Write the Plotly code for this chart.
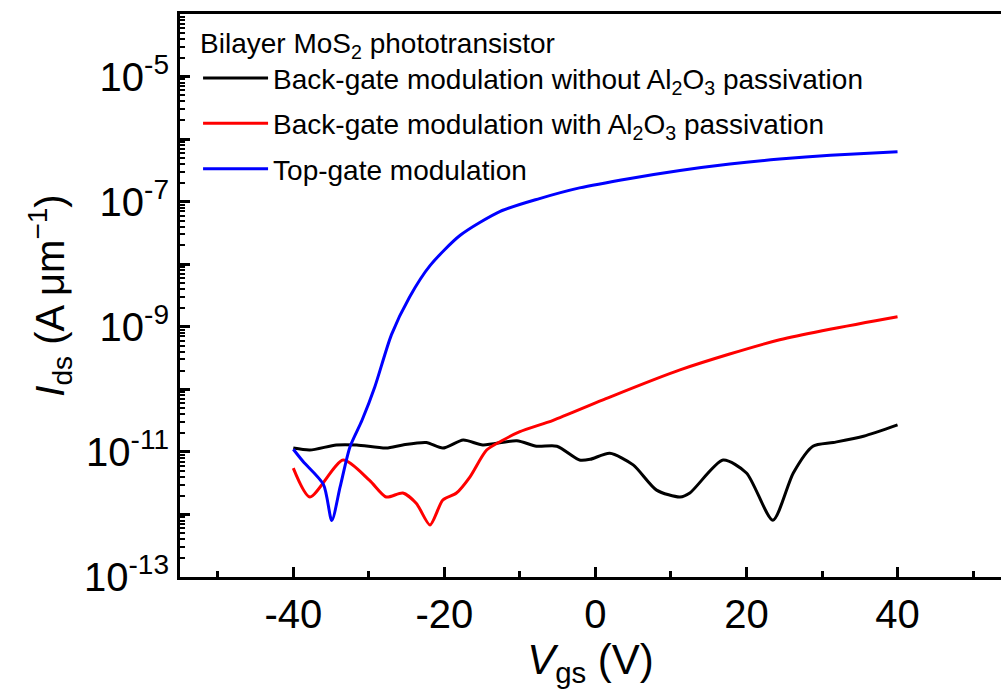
import plotly.graph_objects as go

# Transfer curves of a bilayer MoS2 phototransistor, I_ds (A/um) vs V_gs (V)
vgs_black = [-40, -37.8, -34.3, -31.6, -27.7, -25.5, -22.4, -20.2, -17.5, -14.9, -10.4,
             -7.8, -5.1, -2.1, -0.7, 1.9, 5.0, 8.1, 11.2, 12.5, 16.9, 20.0, 23.5,
             26.2, 28.8, 31.5, 35.5, 40]
ids_black = [1.15e-11, 1.07e-11, 1.29e-11, 1.29e-11, 1.15e-11, 1.29e-11, 1.41e-11, 1.15e-11,
             1.55e-11, 1.29e-11, 1.51e-11, 1.23e-11, 1.23e-11, 7.4e-12, 7.6e-12, 9.5e-12,
             6.2e-12, 2.45e-12, 1.9e-12, 2.2e-12, 7.4e-12, 4.6e-12, 8.1e-13, 4.6e-12,
             1.23e-11, 1.41e-11, 1.78e-11, 2.7e-11]

vgs_red = [-40, -37.8, -33.4, -29.9, -27.7, -25.5, -23.7, -21.9, -20.2, -18.4, -16.6,
           -14.4, -12.2, -10.0, -5.6, 1.0, 11.2, 24.4, 40]
ids_red = [5.5e-12, 1.9e-12, 7.4e-12, 3.5e-12, 1.9e-12, 2.2e-12, 1.5e-12, 6.8e-13,
           1.7e-12, 2.2e-12, 4.0e-12, 1.07e-11, 1.55e-11, 2.1e-11, 3.2e-11, 6.8e-11,
           2.05e-10, 6.2e-10, 1.45e-9]

vgs_blue = [-40, -38.7, -36.0, -34.9, -33.8, -32.5, -30.9, -29.2, -27.0, -24.6, -21.9,
            -17.9, -12.6, -7.4, -2.1, 4.6, 11.2, 17.8, 24.4, 31.1, 40]
ids_blue = [1.1e-11, 7.0e-12, 3.0e-12, 8.0e-13, 2.75e-12, 1.2e-11, 3.2e-11, 1.1e-10,
            7.5e-10, 3.0e-09, 9.5e-09, 2.9e-08, 7.0e-08, 1.12e-07, 1.66e-07, 2.35e-07,
            3.15e-07, 4.0e-07, 4.8e-07, 5.5e-07, 6.3e-07]

names = [
    "Back-gate modulation without Al<sub>2</sub>O<sub>3</sub> passivation",
    "Back-gate modulation with Al<sub>2</sub>O<sub>3</sub> passivation",
    "Top-gate modulation",
]
colors = ["#000000", "#ff0000", "#0000ff"]

y_major = [10.0 ** e for e in range(-13, -3)]
y_labels = ["10<sup>%d</sup>" % e if e % 2 else "" for e in range(-13, -3)]
y_minor = [k * 10.0 ** e for e in range(-13, -4) for k in range(2, 10)]

FONT = "Liberation Sans, Arial, sans-serif"

fig = go.Figure()
for i, (xs, ys, nm, c) in enumerate(zip([vgs_black, vgs_red, vgs_blue],
                                        [ids_black, ids_red, ids_blue], names, colors)):
    fig.add_trace(go.Scatter(x=xs, y=ys, name=nm, mode="lines", legendgroup="g%d" % i,
                             line=dict(color=c, width=3, shape="spline", smoothing=0.7)))

fig.update_layout(
    width=1001, height=694,
    margin=dict(l=180, r=0, t=14, b=117),
    paper_bgcolor="white", plot_bgcolor="white",
    font=dict(family=FONT, color="black"),
    showlegend=True,
    legend=dict(
        x=0.022, y=0.995, xanchor="left", yanchor="top",
        bgcolor="rgba(0,0,0,0)", borderwidth=0,
        font=dict(size=28, family=FONT),
        title=dict(text="Bilayer MoS<sub>2</sub> phototransistor", font=dict(size=28, family=FONT)),
        itemwidth=65, tracegroupgap=6,
    ),
    xaxis=dict(
        range=[-55, 53.7], showgrid=False, zeroline=False,
        showline=True, linecolor="black", linewidth=3, mirror=True,
        ticks="inside", ticklen=10, tickwidth=2.5, tickcolor="black",
        tickmode="array", tickvals=[-40, -20, 0, 20, 40],
        ticktext=["-40", "-20", "0", "20", "40"],
        tickfont=dict(size=40, family=FONT),
        minor=dict(ticks="inside", ticklen=6, tickwidth=2.5, tickcolor="black",
                   tickvals=[-50, -30, -10, 10, 30, 50]),
        title=dict(text="<i>V</i><sub>gs</sub> (V)", font=dict(size=42, family=FONT), standoff=6),
    ),
    yaxis=dict(
        type="log", range=[-13, -4], showgrid=False, zeroline=False,
        showline=True, linecolor="black", linewidth=3, mirror=False,
        ticks="inside", ticklen=10, tickwidth=2.5, tickcolor="black",
        tickmode="array", tickvals=y_major, ticktext=y_labels,
        tickfont=dict(size=40, family=FONT),
        minor=dict(ticks="inside", ticklen=5, tickwidth=2, tickcolor="black",
                   tickvals=y_minor),
        title=dict(text="<i>I</i><sub>ds</sub> (A \u03bcm<sup>\u22121</sup>)",
                   font=dict(size=40, family=FONT), standoff=8),
    ),
)

fig.write_html("out.html")
